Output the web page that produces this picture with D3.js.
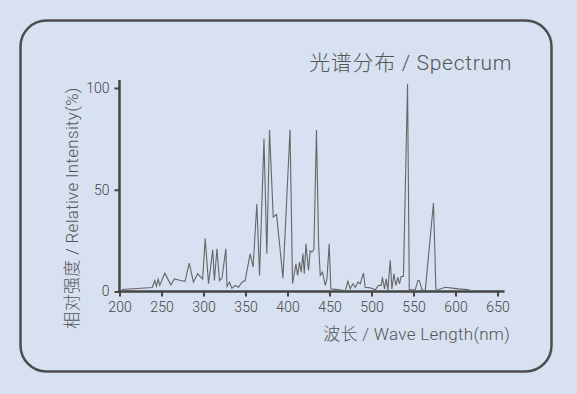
<!DOCTYPE html>
<html>
<head>
<meta charset="utf-8">
<script src="https://cdn.jsdelivr.net/npm/d3@7"></script>
<style>
  html, body { margin: 0; padding: 0; background: #d7e1f1; }
  svg { display: block; }
  .tick text { font-family: Roboto, "Liberation Sans", sans-serif; font-weight: 300; font-size: 14px; fill: #444; }
  .lbl { font-family: Roboto, "Noto Sans CJK SC", sans-serif; font-weight: 300; fill: #555; }
</style>
</head>
<body>
<div class="chart"></div>
<script>
// spectrum readings: wavelength (nm) and relative intensity (%)
var wavelengths = [203, 239, 242, 244, 246, 248, 254, 261, 265.5, 272.6, 278, 283, 288, 293, 299,
  302, 306, 311, 313, 316, 319, 322, 326.6, 328, 331, 333.8, 337.7, 341.7, 345.7, 349.6,
  351, 355.6, 359, 363.5, 366.7, 372, 375.4, 378.6, 383, 387, 394.6, 403, 406,
  410, 412, 414.3, 416.3, 418.3, 420, 422, 425, 427, 429, 431.4, 434.5, 437, 439,
  441.6, 445, 447, 449.6, 451.6, 461.5, 468.7, 471.9, 474.6, 477.9, 480.6, 483.8,
  486.5, 490.5, 492.5, 498.5, 504.4, 508.3, 511.5, 513, 515.5, 517.5, 519.5, 522.3,
  524.3, 526.7, 529, 531.5, 533.3, 535.4, 538, 542.9, 545, 552, 555.2, 557, 560,
  564, 573.8, 576.7, 587.7, 603.6, 616.7];
var intensity = [1, 2, 5.4, 2.6, 6, 3, 9, 3.3, 6.2, 5.4, 5, 14, 4.6, 8.7, 6.2,
  26, 3.8, 20.5, 5.4, 21, 5.4, 6.5, 21, 2.5, 4.6, 1.6, 3, 2.1, 4.6, 5.4,
  8.7, 18.5, 12, 43, 7.9, 75, 18.5, 79.3, 36.6, 37.8, 6.5, 79.6, 3.8,
  13.6, 7.9, 14.4, 9.5, 18.6, 8.7, 23.5, 10.3, 20, 19.4, 20.5, 79.3, 23.5, 7.9,
  9.5, 3, 6.3, 23.5, 1.3, 0.8, 0.3, 5, 1.3, 3.8, 2, 4.6,
  3.8, 9, 2.1, 1.8, 0.8, 3, 3, 7, 1.3, 6.2, 0.8, 15.3,
  1.3, 8.7, 3, 7, 3.8, 7.4, 7.4, 102, 0.8, 0.8, 5.4, 5.4, 0.8,
  0.5, 43.5, 0.5, 2.1, 1.3, 0.8];
var xTicks = [200, 250, 300, 350, 400, 450, 500, 550, 600, 650];
var yTicks = [0, 50, 100];
var title = "光谱分布 / Spectrum";
var xTitle = "波长 / Wave Length(nm)";
var yTitle = "相对强度 / Relative Intensity(%)";

var W = 577, H = 394;
var data = wavelengths.map(function(w, i) { return [w, intensity[i]]; });

var svg = d3.select(".chart").append("svg")
    .attr("width", W)
    .attr("height", H);

// frame
svg.append("rect")
    .attr("x", 20.5).attr("y", 20.5)
    .attr("width", 531).attr("height", 351)
    .attr("rx", 26).attr("ry", 26)
    .attr("fill", "none")
    .attr("stroke", "#4d4d4f")
    .attr("stroke-width", 2.5);

var x = d3.scaleLinear().domain([200, 650]).range([119.5, 497.5]);
var y = d3.scaleLinear().domain([0, 100]).range([291.5, 88]);

var xAxis = svg.append("g")
    .attr("transform", "translate(0," + y(0) + ")")
    .call(d3.axisBottom(x).tickValues(xTicks).tickSize(5).tickPadding(6).tickSizeOuter(0));
xAxis.select(".domain").remove();
xAxis.selectAll(".tick line").attr("stroke", "#444").attr("stroke-width", 2);

var yAxis = svg.append("g")
    .attr("transform", "translate(" + x(200) + ",0)")
    .call(d3.axisLeft(y).tickValues(yTicks).tickSize(5).tickPadding(5).tickSizeOuter(0));
yAxis.select(".domain").remove();
yAxis.selectAll(".tick line").attr("stroke", "#444").attr("stroke-width", 2);

// axis lines, a bit longer than the tick range
svg.append("line")
    .attr("x1", x(200) - 1).attr("x2", x.range()[1] + 7)
    .attr("y1", y(0)).attr("y2", y(0))
    .attr("stroke", "#444").attr("stroke-width", 2.5);
svg.append("line")
    .attr("x1", x(200)).attr("x2", x(200))
    .attr("y1", y(0)).attr("y2", y.range()[1] - 8)
    .attr("stroke", "#444").attr("stroke-width", 2.5);

var line = d3.line()
    .x(function(d) { return x(d[0]); })
    .y(function(d) { return y(d[1]); });

svg.append("path")
    .datum(data)
    .attr("d", line)
    .attr("fill", "none")
    .attr("stroke", "#666")
    .attr("stroke-width", 1.1)
    .attr("stroke-linejoin", "miter");

svg.append("text")
    .attr("class", "lbl")
    .attr("x", 512).attr("y", 70)
    .attr("text-anchor", "end")
    .style("font-size", "21px")
    .style("letter-spacing", "0.7px")
    .text(title);

svg.append("text")
    .attr("class", "lbl")
    .attr("x", 510).attr("y", 340)
    .attr("text-anchor", "end")
    .style("font-size", "17px")
    .style("letter-spacing", "0.3px")
    .text(xTitle);

svg.append("text")
    .attr("class", "lbl")
    .attr("transform", "translate(78,208) rotate(-90)")
    .attr("text-anchor", "middle")
    .style("font-size", "17px")
    .style("letter-spacing", "0.3px")
    .text(yTitle);
</script>
</body>
</html>
